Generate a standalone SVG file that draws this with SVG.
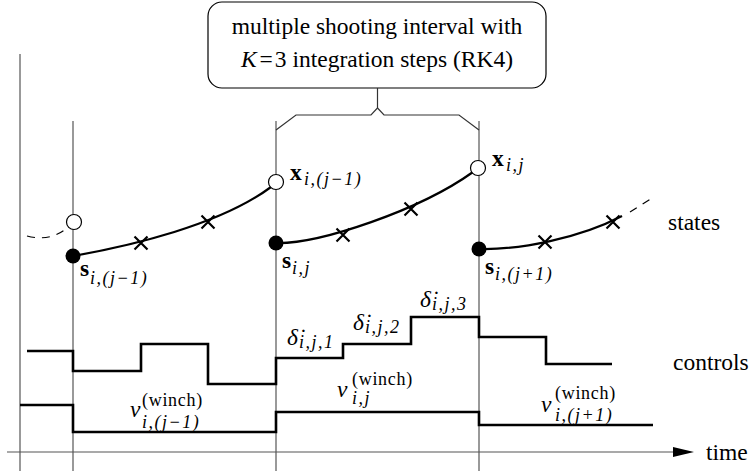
<svg xmlns="http://www.w3.org/2000/svg" width="752" height="476" viewBox="0 0 752 476">
<style>
.grid{stroke:#555;stroke-width:1.2;fill:none}
.brace{stroke:#333;stroke-width:1.2;fill:none}
.curve{stroke:#000;stroke-width:2.2;fill:none}
.dash{stroke:#000;stroke-width:1.2;fill:none;stroke-dasharray:8 7}
.step{stroke:#000;stroke-width:2.6;fill:none}
.cross{stroke:#000;stroke-width:2.2;fill:none}
.open{fill:#fff;stroke:#000;stroke-width:1.2}
.solid{fill:#000}
.t{font-family:"Liberation Serif","Times New Roman",serif;font-size:23.5px;fill:#000}
.it{font-style:italic}
.bf{font-weight:bold}
.sub{font-size:18px;font-style:italic;font-weight:normal;letter-spacing:1.5px}
.sup{font-size:18px;font-style:normal;letter-spacing:0.7px}
</style>
<defs>
<path id="x" d="M-6.5,-6.5 L6.5,6.5 M-6.5,6.5 L6.5,-6.5" class="cross"/>
</defs>

<g id="grid">
<line class="grid" x1="20" y1="54" x2="20" y2="471"/>
<line class="grid" x1="73" y1="121" x2="73" y2="471"/>
<line class="grid" x1="276" y1="121" x2="276" y2="471"/>
<line class="grid" x1="479" y1="121" x2="479" y2="471"/>
</g>

<g id="time-axis">
<line class="grid" x1="7" y1="452" x2="678" y2="452"/>
<path d="M673,447 L694,452 L673,457 Z" fill="#000"/>
<text class="t" x="706" y="460">time</text>
</g>

<g id="note">
<rect x="208" y="2" width="338" height="86" rx="14" ry="14" fill="#fff" stroke="#000" stroke-width="1.2"/>
<text class="t" x="377" y="34" text-anchor="middle">multiple shooting interval with</text>
<text class="t" x="377" y="67" text-anchor="middle"><tspan class="it">K</tspan><tspan dx="3">=</tspan><tspan dx="2">3 integration steps (RK4)</tspan></text>
</g>

<g id="connectors">
<path class="brace" d="M377.5,88 L377.5,108 L371,115 L296,115 L276,130"/>
<path class="brace" d="M377.5,108 L384,115 L459,115 L479,130"/>
</g>

<g id="states">
<path class="dash" d="M27,236 Q50,242 67,228"/>
<path class="curve" d="M73,256 C130,246 220,225 271,187"/>
<path class="curve" d="M276,243 C320,244 420,210 473,172"/>
<path class="curve" d="M479,249 C520,250 580,238 622,216"/>
<path class="dash" d="M630,212 L652,198"/>
<use href="#x" x="141" y="243"/>
<use href="#x" x="208" y="222"/>
<use href="#x" x="343" y="235"/>
<use href="#x" x="411" y="209"/>
<use href="#x" x="545" y="242"/>
<use href="#x" x="613" y="222"/>
<circle class="open" cx="74" cy="222" r="7.5"/>
<circle class="open" cx="276" cy="182" r="7.5"/>
<circle class="open" cx="478" cy="168" r="7.5"/>
<circle class="solid" cx="73" cy="256" r="7.5"/>
<circle class="solid" cx="276" cy="243" r="7.5"/>
<circle class="solid" cx="479" cy="249" r="7.5"/>
<text class="t" x="290" y="180"><tspan class="bf">x</tspan><tspan class="sub" x="304" y="185">i,(j−1)</tspan></text>
<text class="t" x="492" y="166"><tspan class="bf">x</tspan><tspan class="sub" x="506" y="171">i,j</tspan></text>
<text class="t" x="80" y="276"><tspan class="bf">s</tspan><tspan class="sub" x="90" y="284">i,(j−1)</tspan></text>
<text class="t" x="282" y="268"><tspan class="bf">s</tspan><tspan class="sub" x="292" y="274">i,j</tspan></text>
<text class="t" x="485" y="274"><tspan class="bf">s</tspan><tspan class="sub" x="495" y="280">i,(j+1)</tspan></text>
<text class="t" x="668" y="230">states</text>
</g>

<g id="controls">
<path class="step" d="M27,351 L73,351 L73,371 L141,371 L141,344 L208,344 L208,384 L276,384 L276,358 L343,358 L343,344 L411,344 L411,317 L479,317 L479,337 L546,337 L546,364 L612,364"/>
<path class="step" d="M20,405 L73,405 L73,432 L276,432 L276,412 L479,412 L479,425 L653,425"/>
<text class="t it" x="287" y="345">δ̇<tspan class="sub" x="299" y="348">i,j,1</tspan></text>
<text class="t it" x="353" y="330">δ̇<tspan class="sub" x="365" y="333">i,j,2</tspan></text>
<text class="t it" x="420" y="307">δ̇<tspan class="sub" x="432" y="310">i,j,3</tspan></text>
<text class="t it" x="130" y="417">v<tspan class="sup" x="142" y="406">(winch)</tspan><tspan class="sub" x="142" y="428">i,(j−1)</tspan></text>
<text class="t it" x="337" y="397">v<tspan class="sup" x="352" y="385">(winch)</tspan><tspan class="sub" x="352" y="404">i,j</tspan></text>
<text class="t it" x="541" y="412">v<tspan class="sup" x="555" y="399">(winch)</tspan><tspan class="sub" x="555" y="421">i,(j+1)</tspan></text>
<text class="t" x="673" y="370">controls</text>
</g>
</svg>
